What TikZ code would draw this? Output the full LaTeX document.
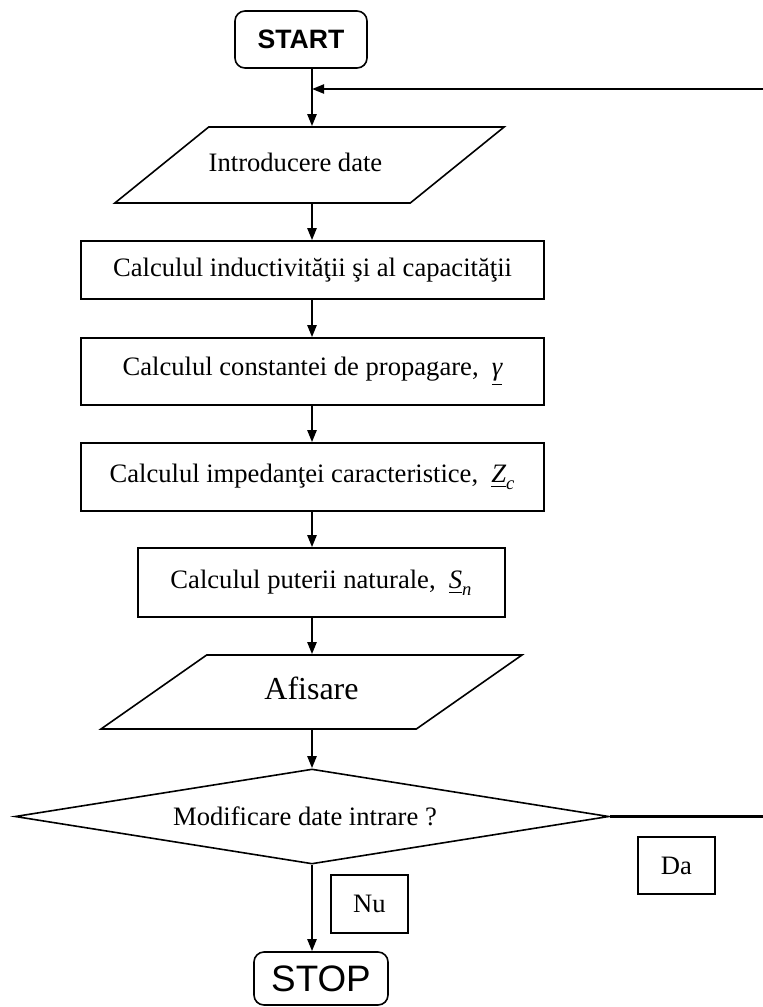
\documentclass[tikz,border=0pt]{standalone}
\usepackage{amsmath}
\usepackage{fontspec}
\setmainfont{Liberation Serif}
\newfontfamily\arialfont{Liberation Sans}
\usepackage{tikz}
\usetikzlibrary{arrows.meta,shapes.geometric}

\tikzset{
  txt/.style={font=\fontsize{13.3}{16}\selectfont},
  procbox/.style={draw,line width=0.8pt,inner sep=0pt,txt},
  termbox/.style={draw,line width=0.8pt,rounded corners=5pt,inner sep=0pt},
  iobox/.style={draw,line width=0.8pt,trapezium,trapezium stretches body,inner xsep=0pt},
  flow/.style={line width=1.1pt,-{Triangle[length=6pt,width=4.5pt]}},
}

\begin{document}
\begin{tikzpicture}[x=0.5pt,y=-0.5pt]
  \useasboundingbox (0,0) rectangle (762,1007);
  \coordinate (col) at (312,0);

  % Start / stop
  \node[termbox,minimum width=66pt,minimum height=28.5pt,font=\arialfont\bfseries\fontsize{13.3}{16}\selectfont] (start) at (301,39.5) {START};
  \node[termbox,minimum width=67pt,minimum height=26.5pt,font=\arialfont\fontsize{18.4}{20}\selectfont] (stop) at (321,978.5) {STOP};

  % Input / output
  \node[iobox,txt,trapezium left angle=39,trapezium right angle=141,minimum width=190.5pt,
        text height=9pt,text depth=3pt,inner ysep=13pt] (in) at (309.5,165) {Introducere date\hspace*{14pt}};
  \node[iobox,trapezium left angle=35,trapezium right angle=145,minimum width=210.5pt,
        text height=11pt,text depth=3.5pt,inner ysep=11.25pt,font=\fontsize{16}{18}\selectfont] (out) at (311.5,692) {Afisare};

  % Calculation boxes
  \node[procbox,minimum width=231.5pt,minimum height=29pt] (lc) at (312.5,270) {Calculul inductivităţii şi al capacităţii};
  \node[procbox,minimum width=231.5pt,minimum height=33.5pt] (gam) at (312.5,371.5) {Calculul constantei de propagare, \ $\underline{\textit{γ}}$};
  \node[procbox,minimum width=231.5pt,minimum height=34pt] (zc) at (312.5,477) {Calculul impedanţei caracteristice, \ $\underline{\textit{Z}}_{\textit{c}}$};
  \node[procbox,minimum width=183.5pt,minimum height=34.5pt] (sn) at (321.5,582.5) {Calculul puterii naturale, \ $\underline{\textit{S}}_{\textit{n}}$};

  % Decision
  \node[draw,diamond,line width=0.8pt,shape aspect=6.25,inner sep=0pt,minimum width=297pt,minimum height=47.5pt,txt] (dec) at (312,816.5) {Modificare date intrare ?\hspace*{7pt}};
  \node[procbox,minimum width=38.5pt,minimum height=29pt] (nu) at (369.5,904) {Nu};
  \node[procbox,minimum width=38.5pt,minimum height=28.5pt] (da) at (676.5,865.5) {Da};

  % Connectors
  \draw[flow] (start.south -| col) -- (in.north -| col);
  \draw[flow] (in.south -| col) -- (lc.north -| col);
  \draw[flow] (lc.south -| col) -- (gam.north -| col);
  \draw[flow] (gam.south -| col) -- (zc.north -| col);
  \draw[flow] (zc.south -| col) -- (sn.north -| col);
  \draw[flow] (sn.south -| col) -- (out.north -| col);
  \draw[flow] (out.south -| col) -- (dec.north);
  \draw[flow] (dec.south) -- (stop.north -| col);

  % Loop back
  \coordinate (back) at (770,89);
  \draw[flow] (dec.east) -- (dec.east -| back) -- (back) -- (back -| col);
\end{tikzpicture}
\end{document}
